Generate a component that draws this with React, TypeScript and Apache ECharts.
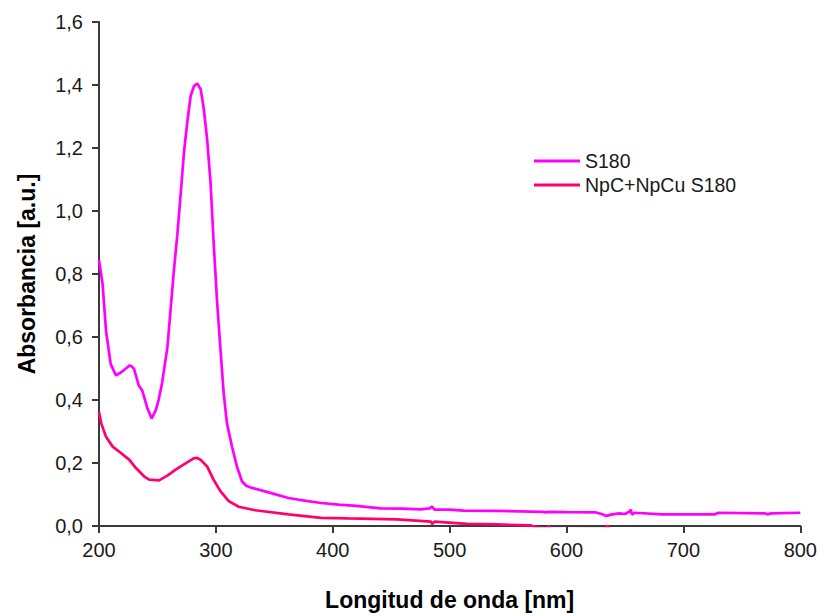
import React, { useEffect, useRef } from "react";
import * as echarts from "echarts";

const s180Wavelengths = [200, 203, 206, 210, 214.5, 219, 223, 226, 228, 230, 234, 237, 241.5, 245, 248.6, 251, 254, 258.5, 261.4, 264, 267, 270, 272.7, 275.5, 278.4, 281.2, 284, 287, 289.7, 292.5, 295.4, 298.2, 301, 304, 306.7, 309.5, 313.8, 318, 322.3, 326, 330.8, 342, 362, 370, 390, 405, 420, 441, 460, 475, 483, 485, 487, 500, 512, 540, 580, 582, 584, 600, 625, 630, 634, 638, 645, 650, 654, 655, 656, 658, 682, 700, 727, 730, 770, 772, 775, 800];
const s180Values = [0.845, 0.77, 0.62, 0.514, 0.478, 0.488, 0.5, 0.509, 0.507, 0.499, 0.446, 0.43, 0.373, 0.341, 0.368, 0.4, 0.455, 0.567, 0.693, 0.808, 0.924, 1.06, 1.186, 1.281, 1.365, 1.396, 1.405, 1.386, 1.323, 1.228, 1.092, 0.892, 0.714, 0.557, 0.42, 0.325, 0.252, 0.189, 0.142, 0.128, 0.121, 0.11, 0.089, 0.084, 0.073, 0.068, 0.064, 0.056, 0.055, 0.053, 0.056, 0.062, 0.052, 0.052, 0.049, 0.048, 0.045, 0.043, 0.045, 0.044, 0.043, 0.038, 0.032, 0.036, 0.04, 0.038, 0.046, 0.052, 0.036, 0.042, 0.037, 0.037, 0.037, 0.042, 0.04, 0.037, 0.04, 0.042];

const npcWavelengths = [200, 202, 206, 211.7, 219, 226, 231.6, 238.7, 243, 251.4, 258.5, 265.6, 274, 281, 284, 287, 292.5, 298, 304, 311, 319.5, 333.7, 362, 390, 413, 455, 484, 485, 487, 515, 540, 569, 575, 584, 585, 586, 600, 633, 635, 637, 700, 800];
const npcValues = [0.362, 0.325, 0.283, 0.252, 0.231, 0.21, 0.184, 0.157, 0.147, 0.145, 0.16, 0.179, 0.199, 0.215, 0.216, 0.21, 0.189, 0.147, 0.11, 0.079, 0.061, 0.05, 0.037, 0.026, 0.024, 0.021, 0.014, 0.006, 0.014, 0.007, 0.005, 0.002, -0.005, -0.008, 0.001, -0.008, -0.01, -0.008, 0.001, -0.01, -0.012, -0.012];

const seriesNames = ["S180", "NpC+NpCu S180"];
const seriesColors = ["#ff00ff", "#ff006e"];

const xTitle = "Longitud de onda [nm]";
const yTitle = "Absorbancia [a.u.]";

export default function App() {
  const ref = useRef<HTMLDivElement>(null);

  useEffect(() => {
    if (!ref.current) return;
    const chart = echarts.init(ref.current, null, { renderer: "svg" });
    const font = "'Liberation Sans', Arial, sans-serif";
    const axisColor = "#3a3a3a";
    chart.setOption({
      animation: false,
      backgroundColor: "#ffffff",
      grid: { left: 99, right: 14, top: 22, bottom: 86, containLabel: false },
      legend: {
        orient: "vertical",
        left: 529,
        top: 146,
        itemWidth: 46,
        itemHeight: 14,
        itemGap: 4,
        icon: "path://M0,0 L46,0 L46,3 L0,3 Z",
        textStyle: { fontFamily: font, fontSize: 19.5, color: "#1a1a1a", padding: [0, 0, 0, 0] },
        data: seriesNames,
      },
      xAxis: {
        type: "value",
        min: 200,
        max: 800,
        interval: 100,
        name: xTitle,
        nameLocation: "middle",
        nameGap: 62,
        nameTextStyle: { fontFamily: font, fontSize: 23, fontWeight: "bold", color: "#000" },
        axisLine: { show: true, lineStyle: { color: axisColor, width: 2 } },
        axisTick: { show: true, inside: false, length: 7, lineStyle: { color: axisColor, width: 2 } },
        axisLabel: { fontFamily: font, fontSize: 20, color: "#1a1a1a", margin: 14 },
        splitLine: { show: false },
      },
      yAxis: {
        type: "value",
        min: 0,
        max: 1.6,
        interval: 0.2,
        name: yTitle,
        nameLocation: "middle",
        nameGap: 61,
        nameTextStyle: { fontFamily: font, fontSize: 23, fontWeight: "bold", color: "#000" },
        axisLine: { show: true, lineStyle: { color: axisColor, width: 2 } },
        axisTick: { show: true, inside: false, length: 7, lineStyle: { color: axisColor, width: 2 } },
        axisLabel: {
          fontFamily: font,
          fontSize: 20,
          color: "#1a1a1a",
          margin: 16,
          formatter: (v: number) => v.toFixed(1).replace(".", ","),
        },
        splitLine: { show: false },
      },
      series: [
        {
          name: seriesNames[0],
          type: "line",
          symbol: "none",
          clip: true,
          lineStyle: { color: seriesColors[0], width: 2.7 },
          itemStyle: { color: seriesColors[0] },
          data: s180Wavelengths.map((w, i) => [w, s180Values[i]]),
        },
        {
          name: seriesNames[1],
          type: "line",
          symbol: "none",
          clip: true,
          lineStyle: { color: seriesColors[1], width: 2.7 },
          itemStyle: { color: seriesColors[1] },
          data: npcWavelengths.map((w, i) => [w, npcValues[i]]),
        },
      ],
    });
    return () => chart.dispose();
  }, []);

  return (
    <div
      ref={ref}
      style={{ position: "fixed", left: 0, top: 0, width: 820, height: 616, background: "#fff" }}
    />
  );
}
